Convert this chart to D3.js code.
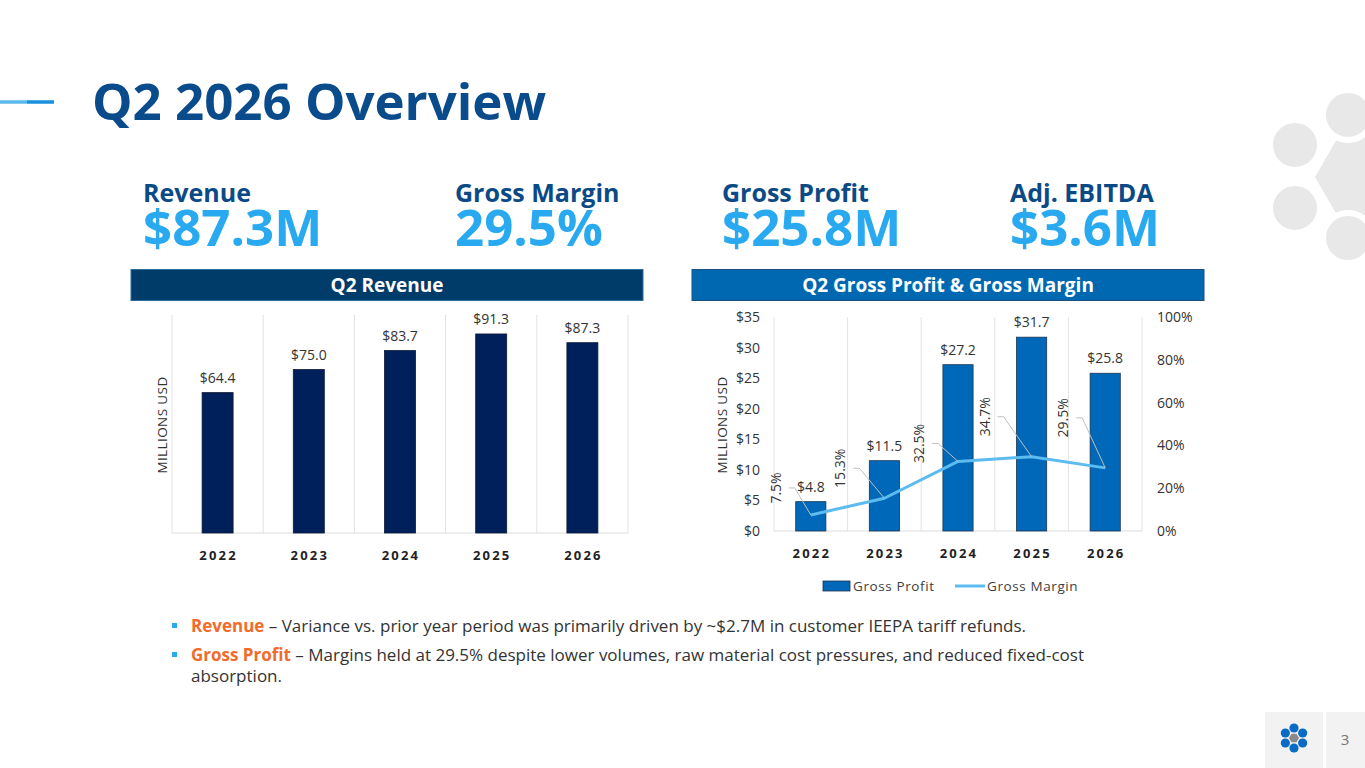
<!DOCTYPE html>
<html>
<head>
<meta charset="utf-8">
<script src="https://cdn.jsdelivr.net/npm/d3@7/dist/d3.min.js"></script>
<style>
body { margin: 0; background: white; }
svg { display: block; font-family: "Open Sans", sans-serif; }
.tick text { font-family: "Open Sans", sans-serif; }
</style>
</head>
<body>
<script>
// --- data ---
var years = ["2022", "2023", "2024", "2025", "2026"];
var revenue = [64.4, 75.0, 83.7, 91.3, 87.3];
var grossProfit = [4.8, 11.5, 27.2, 31.7, 25.8];
var grossMargin = [7.5, 15.3, 32.5, 34.7, 29.5];
var gpTicks = [0, 5, 10, 15, 20, 25, 30, 35];
var gmTicks = [0, 20, 40, 60, 80, 100];
var kpiNames = ["Revenue", "Gross Margin", "Gross Profit", "Adj. EBITDA"];
var kpiValues = ["$87.3M", "29.5%", "$25.8M", "$3.6M"];

// layout only: where each margin label was dragged to, relative to its point
var marginLabelNudge = [[-35, -27], [-44, -30], [-39, -18], [-47, -40], [-42, -50]];

var W = 1365, H = 768;
var svg = d3.select("body").append("svg").attr("width", W).attr("height", H);

// decorative logo circles at right edge
var deco = svg.append("g");
var hexR = 50, hx = 1365, hy = 177;
deco.append("polygon")
	.attr("points", d3.range(6).map(function(i) {
		var a = Math.PI / 3 * i;
		return [hx + hexR * Math.cos(a), hy + hexR * Math.sin(a)].join(",");
	}).join(" "))
	.attr("fill", "#e8e8e8");
[[1295, 145], [1295, 208], [1348, 115], [1348, 238]].forEach(function(c) {
	deco.append("circle").attr("cx", c[0]).attr("cy", c[1]).attr("r", 25)
		.attr("fill", "#e8e8e8").attr("stroke", "white").attr("stroke-width", 6);
});

// title
svg.append("line").attr("x1", 0).attr("x2", 27).attr("y1", 102).attr("y2", 102)
	.attr("stroke", "#5cb8ea").attr("stroke-width", 3.5);
svg.append("line").attr("x1", 27).attr("x2", 54).attr("y1", 102).attr("y2", 102)
	.attr("stroke", "#1a8fdc").attr("stroke-width", 3.5);
svg.append("text").attr("x", 92).attr("y", 120)
	.attr("font-size", 51).attr("font-weight", 700).attr("fill", "#0a4c8b")
	.text("Q2 2026 Overview");

// KPIs
var kpiX = [143, 455, 722, 1010];
kpiNames.forEach(function(n, i) {
	svg.append("text").attr("x", kpiX[i]).attr("y", 202)
		.attr("font-size", 25).attr("font-weight", 700).attr("fill", "#0c4a86").text(n);
	svg.append("text").attr("x", kpiX[i]).attr("y", 246)
		.attr("font-size", 51).attr("font-weight", 700).attr("fill", "#29aaf0")
		.text(kpiValues[i]);
});

// section header bars
function header(x, w, fill, stroke, label) {
	svg.append("rect").attr("x", x).attr("y", 269.5).attr("width", w).attr("height", 31)
		.attr("fill", fill).attr("stroke", stroke).attr("stroke-width", 1);
	svg.append("text").attr("x", x + w / 2).attr("y", 292)
		.attr("text-anchor", "middle").attr("font-size", 19).attr("font-weight", 700)
		.attr("fill", "white").text(label);
}
header(131, 512, "#003c6a", "#2b6f9f", "Q2 Revenue");
header(692, 512, "#0068b1", "#1b4f80", "Q2 Gross Profit & Gross Margin");

// ---------- left chart: revenue ----------
var lx = d3.scaleBand().domain(years).range([172, 628]);
var ly = d3.scaleLinear().domain([0, 100]).range([533, 315]);
var left = svg.append("g");

left.selectAll("line.grid").data(d3.range(years.length + 1)).enter().append("line")
	.attr("x1", function(i) { return 172 + i * lx.step(); })
	.attr("x2", function(i) { return 172 + i * lx.step(); })
	.attr("y1", ly(100)).attr("y2", ly(0))
	.attr("stroke", "#e3e3e3").attr("stroke-width", 1);
left.append("line").attr("x1", 172).attr("x2", 628).attr("y1", ly(0)).attr("y2", ly(0))
	.attr("stroke", "#dcdcdc");

var lbw = lx.bandwidth() * 0.34;
left.selectAll("rect.bar").data(revenue).enter().append("rect")
	.attr("x", function(d, i) { return lx(years[i]) + lx.bandwidth() / 2 - lbw / 2; })
	.attr("y", function(d) { return ly(d); })
	.attr("width", lbw)
	.attr("height", function(d) { return ly(0) - ly(d); })
	.attr("fill", "#00205b").attr("stroke", "#0d1a33").attr("stroke-width", 0.8);

left.selectAll("text.val").data(revenue).enter().append("text")
	.attr("x", function(d, i) { return lx(years[i]) + lx.bandwidth() / 2; })
	.attr("y", function(d) { return ly(d) - 10; })
	.attr("text-anchor", "middle").attr("font-size", 14).attr("fill", "#333")
	.text(function(d) { return "$" + d.toFixed(1); });

left.selectAll("text.yr").data(years).enter().append("text")
	.attr("x", function(d) { return lx(d) + lx.bandwidth() / 2 + 1; })
	.attr("y", 560).attr("text-anchor", "middle")
	.attr("font-size", 13).attr("font-weight", 700).attr("letter-spacing", 2.2)
	.attr("fill", "#222").text(function(d) { return d; });

left.append("text").attr("transform", "translate(167,425) rotate(-90)")
	.attr("text-anchor", "middle").attr("font-size", 13.5).attr("fill", "#333")
	.attr("letter-spacing", 0.4).text("MILLIONS USD");

// ---------- right chart: gross profit & margin ----------
var rx = d3.scaleBand().domain(years).range([774, 1142]);
var ry = d3.scaleLinear().domain([0, 35]).range([531, 317]);
var ry2 = d3.scaleLinear().domain([0, 100]).range([531, 317]);
var right = svg.append("g");

right.selectAll("line.grid").data(d3.range(years.length + 1)).enter().append("line")
	.attr("x1", function(i) { return 774 + i * rx.step(); })
	.attr("x2", function(i) { return 774 + i * rx.step(); })
	.attr("y1", ry(35)).attr("y2", ry(0))
	.attr("stroke", "#e3e3e3").attr("stroke-width", 1);
right.append("line").attr("x1", 774).attr("x2", 1142).attr("y1", ry(0)).attr("y2", ry(0))
	.attr("stroke", "#dcdcdc");

var yAxisL = right.append("g").attr("transform", "translate(774,0)")
	.call(d3.axisLeft(ry).tickValues(gpTicks).tickSize(0).tickPadding(14)
		.tickFormat(function(d) { return "$" + d; }));
var yAxisR = right.append("g").attr("transform", "translate(1142,0)")
	.call(d3.axisRight(ry2).tickValues(gmTicks).tickSize(0).tickPadding(15)
		.tickFormat(function(d) { return d + "%"; }));
[yAxisL, yAxisR].forEach(function(a) {
	a.select(".domain").remove();
	a.selectAll("text").attr("font-size", 14).attr("fill", "#333");
});

var rbw = rx.bandwidth() * 0.41;
right.selectAll("rect.bar").data(grossProfit).enter().append("rect")
	.attr("x", function(d, i) { return rx(years[i]) + rx.bandwidth() / 2 - rbw / 2; })
	.attr("y", function(d) { return ry(d); })
	.attr("width", rbw)
	.attr("height", function(d) { return ry(0) - ry(d); })
	.attr("fill", "#0068b8").attr("stroke", "#1a3550").attr("stroke-width", 0.8);

right.selectAll("text.val").data(grossProfit).enter().append("text")
	.attr("x", function(d, i) { return rx(years[i]) + rx.bandwidth() / 2; })
	.attr("y", function(d) { return ry(d) - 10; })
	.attr("text-anchor", "middle").attr("font-size", 14).attr("fill", "#333")
	.text(function(d) { return "$" + d.toFixed(1); });

// margin line
var pts = grossMargin.map(function(d, i) {
	return [rx(years[i]) + rx.bandwidth() / 2, ry2(d)];
});
right.append("path").datum(pts)
	.attr("d", d3.line())
	.attr("fill", "none").attr("stroke", "#5cbcf0").attr("stroke-width", 3)
	.attr("stroke-linejoin", "round");

// leader lines + rotated labels
pts.forEach(function(p, i) {
	var lxp = p[0] + marginLabelNudge[i][0];
	var lyp = p[1] + marginLabelNudge[i][1];
	right.append("polyline")
		.attr("points", [[lxp + 13, lyp], [lxp + 19, lyp], p].map(function(q) { return q.join(","); }).join(" "))
		.attr("fill", "none").attr("stroke", "#bfbfbf").attr("stroke-width", 1);
	right.append("text")
		.attr("transform", "translate(" + (lxp + 5) + "," + lyp + ") rotate(-90)")
		.attr("text-anchor", "middle").attr("font-size", 14).attr("fill", "#333")
		.text(grossMargin[i].toFixed(1) + "%");
});

right.selectAll("text.yr").data(years).enter().append("text")
	.attr("x", function(d) { return rx(d) + rx.bandwidth() / 2 + 1; })
	.attr("y", 558).attr("text-anchor", "middle")
	.attr("font-size", 13).attr("font-weight", 700).attr("letter-spacing", 2.2)
	.attr("fill", "#222").text(function(d) { return d; });

right.append("text").attr("transform", "translate(727,425) rotate(-90)")
	.attr("text-anchor", "middle").attr("font-size", 13.5).attr("fill", "#333")
	.attr("letter-spacing", 0.4).text("MILLIONS USD");

// legend
right.append("rect").attr("x", 823).attr("y", 581).attr("width", 27).attr("height", 10)
	.attr("fill", "#0068b8").attr("stroke", "#1a3550").attr("stroke-width", 0.8);
right.append("text").attr("x", 853).attr("y", 591).attr("font-size", 13.5)
	.attr("letter-spacing", 0.6).attr("fill", "#404040").text("Gross Profit");
right.append("line").attr("x1", 955).attr("x2", 985).attr("y1", 586).attr("y2", 586)
	.attr("stroke", "#5cbcf0").attr("stroke-width", 3);
right.append("text").attr("x", 987).attr("y", 591).attr("font-size", 13.5)
	.attr("letter-spacing", 0.6).attr("fill", "#404040").text("Gross Margin");

// bullets
var bullets = [
	{ y: 632, head: "Revenue", lines: [" \u2013 Variance vs. prior year period was primarily driven by ~$2.7M in customer IEEPA tariff refunds."] },
	{ y: 661, head: "Gross Profit", lines: [" \u2013 Margins held at 29.5% despite lower volumes, raw material cost pressures, and reduced fixed-cost", "absorption."] }
];
bullets.forEach(function(b) {
	svg.append("rect").attr("x", 172).attr("y", b.y - 9).attr("width", 5).attr("height", 5)
		.attr("fill", "#29aaf0");
	var t = svg.append("text").attr("x", 191).attr("y", b.y).attr("font-size", 17)
		.attr("fill", "#333");
	t.append("tspan").attr("font-weight", 700).attr("fill", "#f26b2a").text(b.head);
	t.append("tspan").text(b.lines[0]);
	if (b.lines[1]) {
		svg.append("text").attr("x", 191).attr("y", b.y + 21).attr("font-size", 17)
			.attr("fill", "#333").text(b.lines[1]);
	}
});

// footer
svg.append("rect").attr("x", 1265).attr("y", 712).attr("width", 58).attr("height", 56).attr("fill", "#f2f2f2");
svg.append("rect").attr("x", 1326).attr("y", 712).attr("width", 39).attr("height", 56).attr("fill", "#f2f2f2");
svg.append("text").attr("x", 1345).attr("y", 745).attr("text-anchor", "middle")
	.attr("font-size", 15).attr("fill", "#777").text("3");
var fx = 1294, fy = 738;
svg.append("polygon")
	.attr("points", d3.range(6).map(function(i) {
		var a = Math.PI / 3 * i;
		return [fx + 5 * Math.cos(a), fy + 5 * Math.sin(a)].join(",");
	}).join(" "))
	.attr("fill", "#8a8a8a");
svg.selectAll("circle.dot").data(d3.range(6)).enter().append("circle")
	.attr("cx", function(i) { return fx + 10 * Math.cos(Math.PI / 3 * i + Math.PI / 6); })
	.attr("cy", function(i) { return fy + 10 * Math.sin(Math.PI / 3 * i + Math.PI / 6); })
	.attr("r", 4.6).attr("fill", "#0a6bc4");
</script>
</body>
</html>
